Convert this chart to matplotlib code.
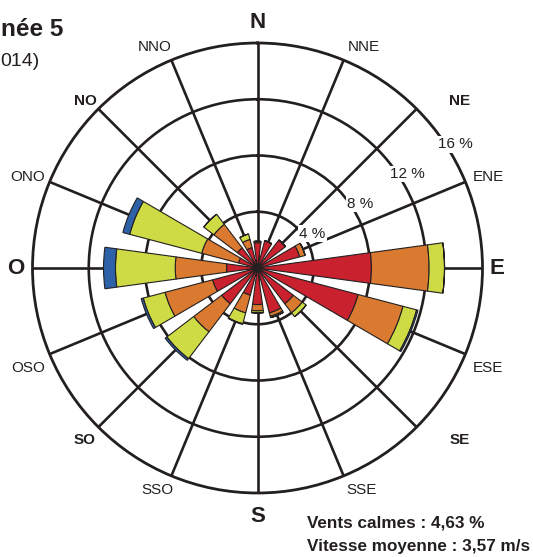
import numpy as np
import matplotlib
matplotlib.use("Agg")
import matplotlib.pyplot as plt

plt.rcParams['font.family'] = ['Liberation Sans', 'DejaVu Sans']

# Wind directions (clockwise from north) and frequency (%) per speed class
directions = ["N", "NNE", "NE", "ENE", "E", "ESE", "SE", "SSE",
              "S", "SSO", "SO", "OSO", "O", "ONO", "NO", "NNO"]
class_1 = [1.8, 2.0, 2.5, 3.1, 8.1, 7.4, 3.2, 3.3, 2.6, 2.0, 3.2, 3.3, 2.2, 1.4, 1.8, 1.5]
class_2 = [0.1, 0.0, 0.0, 0.4, 4.1, 3.3, 0.8, 0.25, 0.45, 1.3, 2.5, 3.5, 3.65, 2.7, 2.1, 0.6]
class_3 = [0.0, 0.0, 0.0, 0.0, 1.1, 1.0, 0.35, 0.1, 0.15, 0.8, 2.4, 1.6, 4.25, 5.3, 0.9, 0.4]
class_4 = [0.0, 0.0, 0.0, 0.0, 0.0, 0.1, 0.0, 0.0, 0.0, 0.05, 0.15, 0.15, 0.85, 0.5, 0.0, 0.0]
ring_values = [4, 8, 12, 16]
title_text = "née 5"
subtitle_text = "014)"
calm_text = "Vents calmes : 4,63 %"
mean_speed_text = "Vitesse moyenne : 3,57 m/s"

class_colors = ["#C9222E", "#D97A30", "#CEDB44", "#2D62A8"]
ink = "#231F20"

W, H = 533, 557
fig = plt.figure(figsize=(W / 100, H / 100), dpi=100)

cx, cy, R = 257.5, 268.0, 225.0
ax = fig.add_axes([(cx - R) / W, (H - cy - R) / H, 2 * R / W, 2 * R / H],
                  projection="polar")
ax.set_theta_zero_location("N")
ax.set_theta_direction(-1)
ax.set_ylim(0, ring_values[-1])
ax.set_axisbelow(True)

theta = np.deg2rad(np.arange(len(directions)) * 22.5)
width = np.deg2rad(15.5)

bottom = np.zeros(len(directions))
for vals, col in zip([class_1, class_2, class_3, class_4], class_colors):
    vals = np.asarray(vals)
    ax.bar(theta, vals, width=width, bottom=bottom, color=col,
           edgecolor=ink, linewidth=0.8, zorder=3)
    bottom = bottom + vals

ax.set_rgrids(ring_values[:-1], labels=[""] * (len(ring_values) - 1))
ax.set_thetagrids(np.arange(len(directions)) * 22.5, labels=[""] * len(directions))
ax.grid(True, color=ink, linewidth=1.9)
ax.spines["polar"].set_color(ink)
ax.spines["polar"].set_linewidth(2.0)
ax.tick_params(length=0)

# ring value labels sit on the rings, masking the line behind them
for rv in ring_values:
    ax.text(np.deg2rad(58), rv + 0.6, f"{rv} %", ha="center", va="center",
            fontsize=11, color=ink, zorder=6, clip_on=False,
            bbox=dict(boxstyle="square,pad=0.08", fc="white", ec="none"))

def ftext(x, y, s, **kw):
    fig.text(x / W, 1 - y / H, s, color=ink, **kw)

label_pos = {
    "N": (258, 22), "NNE": (364, 47), "NE": (460, 101), "ENE": (488, 177),
    "E": (497, 268), "ESE": (488, 368), "SE": (460, 440), "SSE": (362, 490),
    "S": (258, 516), "SSO": (157, 490), "SO": (85, 440), "OSO": (28, 368),
    "O": (16, 268), "ONO": (28, 177), "NO": (85, 101), "NNO": (155, 47),
}
for name in directions:
    x, y = label_pos[name]
    if len(name) == 1:
        ftext(x, y, name, ha="center", va="center", fontsize=16, fontweight="bold")
    elif len(name) == 2:
        ftext(x, y, name, ha="center", va="center", fontsize=11, fontweight="bold")
    else:
        ftext(x, y, name, ha="center", va="center", fontsize=11)

ftext(1, 36, title_text, ha="left", va="baseline", fontsize=17.5, fontweight="bold")
ftext(0, 66, subtitle_text, ha="left", va="baseline", fontsize=14)

ftext(307, 528, calm_text, ha="left", va="baseline", fontsize=12.3, fontweight="bold")
ftext(307, 551, mean_speed_text, ha="left", va="baseline", fontsize=12.3, fontweight="bold")

fig.savefig("out.png", dpi=100)
